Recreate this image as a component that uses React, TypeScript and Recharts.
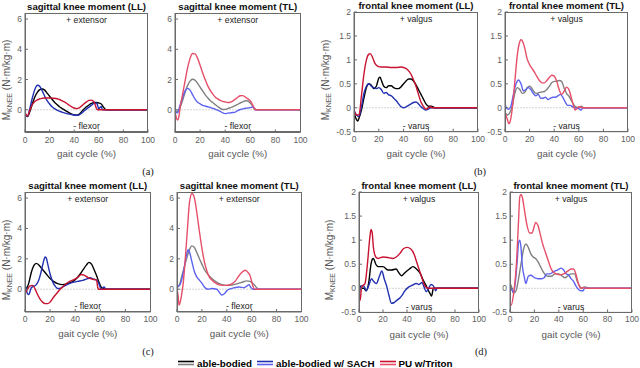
import { LineChart, Line, XAxis, YAxis, ReferenceLine } from 'recharts'

type Pt = [number, number]

const X_TICKS = [0, 20, 40, 60, 80, 100]
const SAG_TICKS = [0, 2, 4, 6]
const FRONT_TICKS = [-0.5, 0, 0.5, 1, 1.5, 2]
const SAG_DOMAIN: [number, number] = [-1.5, 6.4]
const FRONT_DOMAIN: [number, number] = [-0.5, 2]

// ---- (a) sagittal, top row ----
const aLLAble: Pt[] = [[0,-0.2],[2,-0.45],[4,-0.1],[6,0.4],[8,0.85],[10,1.15],[12,1.33],[14,1.38],[16,1.3],[18,1.1],[20,0.9],[22,0.7],[24,0.5],[26,0.35],[28,0.2],[30,0.1],[34,-0.1],[38,-0.28],[42,-0.36],[44,-0.3],[46,-0.12],[48,0.05],[50,0.2],[52,0.32],[54,0.42],[56,0.48],[58,0.48],[60,0.45],[62,0.38],[64,0.15],[66,0],[100,0]]
const aLLSach: Pt[] = [[0,-0.3],[2,-0.45],[4,0.1],[6,0.8],[8,1.35],[10,1.62],[12,1.55],[14,1.25],[16,0.9],[18,0.6],[20,0.38],[22,0.2],[24,0.08],[26,-0.02],[30,-0.15],[34,-0.25],[38,-0.32],[42,-0.36],[44,-0.33],[46,-0.22],[48,-0.08],[50,0.05],[52,0.18],[54,0.3],[56,0.42],[58,0.45],[59,0.3],[60,0.05],[61,0.15],[62,0.22],[63,0],[100,0]]
const aLLPu: Pt[] = [[0,-0.2],[2,-0.42],[4,0],[6,0.35],[8,0.55],[10,0.66],[12,0.72],[14,0.76],[16,0.78],[18,0.78],[20,0.78],[22,0.77],[24,0.76],[26,0.73],[28,0.68],[30,0.6],[32,0.52],[34,0.42],[36,0.3],[38,0.2],[40,0.12],[42,0.08],[44,0.12],[46,0.25],[48,0.4],[50,0.52],[52,0.62],[54,0.64],[56,0.52],[57,0.35],[58,0.1],[59,0],[100,0]]

const aTLAble: Pt[] = [[0,-0.05],[2,-0.1],[4,0.15],[6,0.6],[8,1.15],[10,1.6],[12,1.9],[14,2.02],[16,1.95],[18,1.75],[20,1.5],[22,1.25],[24,1.0],[26,0.8],[28,0.62],[30,0.48],[32,0.35],[34,0.22],[36,0.1],[38,0.02],[40,0.03],[42,0.08],[44,0.14],[46,0.2],[48,0.28],[50,0.36],[52,0.45],[54,0.52],[56,0.6],[58,0.58],[60,0.45],[62,0.25],[64,0.05],[65,0],[100,0]]
const aTLSach: Pt[] = [[0,-0.1],[2,-0.2],[4,0.3],[6,0.8],[8,1.25],[10,1.42],[12,1.3],[14,1.0],[16,0.7],[18,0.5],[20,0.4],[22,0.3],[24,0.25],[26,0.2],[28,0.15],[30,0.1],[32,0.05],[34,-0.02],[36,-0.1],[38,-0.2],[40,-0.25],[42,-0.22],[44,-0.2],[46,-0.18],[48,-0.15],[50,-0.05],[52,0.02],[54,0.06],[56,0.1],[58,0.12],[60,0.14],[62,0.2],[63,0.1],[64,0],[100,0]]
const aTLPu: Pt[] = [[0,-0.1],[1,-0.5],[2,-0.68],[3,-0.5],[4,0.1],[6,1.0],[8,1.9],[10,2.75],[12,3.4],[14,3.72],[16,3.7],[18,3.4],[20,2.95],[22,2.45],[24,2.0],[26,1.6],[28,1.3],[30,1.05],[32,0.85],[34,0.72],[36,0.62],[38,0.56],[40,0.52],[42,0.48],[44,0.5],[46,0.58],[48,0.7],[50,0.83],[52,0.93],[54,0.94],[56,0.84],[58,0.72],[60,0.6],[62,0.3],[63,0.1],[64,0],[100,0]]

// ---- (b) frontal, top row ----
const bLLAble: Pt[] = [[0,-0.1],[2,-0.25],[3,-0.28],[4,-0.22],[6,-0.05],[8,0.2],[10,0.42],[12,0.5],[14,0.47],[16,0.4],[18,0.45],[20,0.62],[21,0.64],[22,0.58],[24,0.45],[26,0.42],[28,0.46],[30,0.46],[32,0.42],[34,0.4],[36,0.4],[38,0.44],[40,0.5],[42,0.56],[44,0.6],[46,0.6],[48,0.56],[50,0.48],[52,0.38],[54,0.28],[56,0.18],[58,0.08],[60,0.03],[62,0.03],[64,0.02],[65,0],[100,0]]
const bLLSach: Pt[] = [[0,-0.05],[2,-0.15],[4,-0.18],[6,0.02],[8,0.3],[10,0.45],[12,0.5],[14,0.45],[16,0.42],[18,0.4],[20,0.42],[22,0.38],[24,0.3],[26,0.32],[28,0.27],[30,0.25],[32,0.2],[34,0.15],[36,0.08],[38,0.02],[40,0],[42,0.02],[44,0.05],[46,0.08],[48,0.11],[50,0.12],[52,0.08],[54,0.02],[56,-0.02],[58,-0.05],[60,-0.03],[62,0],[100,0]]
const bLLPu: Pt[] = [[0,-0.05],[2,-0.15],[4,-0.15],[6,0.25],[8,0.7],[10,1.0],[12,1.12],[13,1.13],[15,1.05],[17,0.92],[19,0.87],[22,0.85],[26,0.85],[30,0.84],[34,0.84],[38,0.85],[40,0.84],[43,0.8],[46,0.7],[48,0.58],[50,0.45],[52,0.28],[54,0.12],[56,0.03],[58,-0.03],[60,0],[62,0.02],[63,0],[100,0]]

const bTLAble: Pt[] = [[0,-0.1],[2,-0.15],[4,-0.1],[6,0.05],[8,0.3],[10,0.42],[12,0.38],[14,0.3],[16,0.32],[18,0.42],[20,0.45],[22,0.4],[24,0.32],[26,0.3],[28,0.32],[30,0.33],[32,0.34],[34,0.38],[36,0.45],[38,0.52],[40,0.55],[42,0.55],[44,0.57],[46,0.55],[48,0.42],[50,0.3],[52,0.24],[54,0.15],[56,0.06],[58,0.01],[60,0],[62,0.03],[64,0],[100,0]]
const bTLSach: Pt[] = [[0,0.1],[1,0],[3,-0.03],[5,0.05],[7,0.3],[9,0.5],[11,0.58],[13,0.5],[15,0.35],[17,0.38],[19,0.42],[21,0.38],[23,0.3],[25,0.25],[27,0.28],[29,0.2],[31,0.2],[33,0.22],[35,0.17],[37,0.2],[39,0.22],[41,0.22],[43,0.25],[45,0.28],[47,0.22],[49,0.12],[51,0.05],[53,0.05],[55,0.02],[57,0],[60,-0.02],[62,-0.05],[63,0],[100,0]]
const bTLPu: Pt[] = [[0,-0.1],[2,-0.25],[3,-0.33],[4,-0.3],[6,0],[8,0.55],[10,1.1],[12,1.38],[13,1.42],[14,1.4],[16,1.25],[18,1.02],[20,0.9],[22,0.82],[24,0.74],[26,0.65],[28,0.57],[30,0.52],[32,0.52],[34,0.57],[36,0.63],[38,0.68],[40,0.66],[42,0.56],[44,0.38],[46,0.28],[48,0.34],[50,0.43],[52,0.38],[54,0.2],[56,0.02],[57,-0.05],[58,-0.03],[60,0.02],[62,0.01],[63,0],[100,0]]

// ---- (c) sagittal, bottom row ----
const cLLAble: Pt[] = [[0,-0.2],[1,0],[3,0.4],[5,1.1],[7,1.55],[9,1.7],[11,1.6],[13,1.4],[15,1.2],[17,1.0],[20,0.7],[23,0.5],[26,0.37],[30,0.3],[34,0.38],[38,0.5],[41,0.7],[44,1.0],[46,1.25],[49,1.6],[51,1.77],[53,1.65],[55,1.3],[57,0.9],[59,0.45],[61,0.1],[63,0.02],[65,0],[100,0]]
const cLLSach: Pt[] = [[0,0.27],[1,0],[2,-0.3],[3,-0.35],[5,0.1],[7,0.2],[9,0.3],[11,0.6],[13,1.2],[15,1.9],[16,2.12],[17,2.05],[18,1.7],[20,1.0],[22,0.5],[24,0.2],[26,0.05],[28,0.05],[30,0.15],[34,0.32],[38,0.45],[42,0.52],[46,0.58],[50,0.7],[52,0.75],[54,0.68],[57,0.6],[59,0.35],[60,0.1],[61,0],[62,0.1],[63,0.15],[64,0.05],[65,0],[100,0]]
const cLLPu: Pt[] = [[0,-0.3],[2,0],[4,0.22],[6,0.25],[8,0.02],[10,-0.35],[12,-0.65],[14,-0.85],[16,-0.95],[18,-0.95],[20,-0.85],[22,-0.62],[24,-0.4],[26,-0.2],[28,0],[30,0.15],[33,0.38],[36,0.53],[39,0.63],[42,0.78],[45,0.97],[47,0.93],[50,0.78],[52,0.7],[55,0.64],[57,0.6],[58,0.1],[58.5,0],[100,0]]

const cTLAble: Pt[] = [[0,0.1],[2,0.3],[4,0.9],[6,1.5],[8,2.1],[10,2.6],[12,2.85],[14,2.75],[16,2.4],[18,2.0],[20,1.65],[22,1.3],[25,0.95],[28,0.7],[32,0.45],[36,0.3],[40,0.25],[44,0.28],[48,0.35],[52,0.45],[56,0.55],[59,0.5],[62,0.3],[64,0.1],[66,0],[100,0]]
const cTLSach: Pt[] = [[0,0.2],[2,0.25],[4,0.7],[6,1.5],[8,2.4],[9,2.6],[10,2.45],[12,1.8],[14,1.15],[16,0.8],[18,0.6],[20,0.4],[22,0.15],[25,0],[28,0.05],[32,0],[34,-0.2],[36,-0.38],[38,-0.3],[40,-0.1],[42,0],[46,0.1],[50,0.15],[54,0.1],[56,0.2],[58,0.3],[59,0.15],[61,0],[100,0]]
const cTLPu: Pt[] = [[0,0],[1,-0.5],[1.6,-1.05],[3,-0.7],[4,-0.2],[5,0.4],[7,2.4],[8.5,4.1],[10,5.7],[12,6.3],[14,6.0],[16,5.0],[18,3.8],[20,2.7],[22,1.8],[24,1.2],[26,0.8],[28,0.6],[31,0.4],[35,0.27],[40,0.25],[44,0.35],[47,0.55],[49,0.8],[52,1.1],[55,1.25],[57,1.1],[58.5,0.93],[60,0.5],[61,0.2],[62.5,0],[100,0]]

// ---- (d) frontal, bottom row ----
const dLLAble: Pt[] = [[0,-0.1],[1,0.05],[2,0],[4,0],[6,-0.05],[8,0.1],[10,0.5],[11,0.6],[12,0.62],[14,0.5],[16,0.45],[20,0.45],[24,0.38],[27,0.38],[31,0.4],[33,0.33],[35.5,0.26],[38,0.32],[42,0.4],[45,0.45],[48,0.4],[51,0.31],[53.5,0.17],[56,0.05],[59,-0.1],[60.5,-0.16],[62,0],[65,0],[100,0]]
const dLLSach: Pt[] = [[0,-0.2],[1,0],[2,0.05],[4,0.05],[6,-0.05],[8,0.05],[10.5,0.2],[12,0.15],[14.5,0.1],[17,0.25],[19,0.36],[21,0.2],[23,0.05],[25,-0.15],[27,-0.31],[29,-0.3],[31,-0.26],[34,-0.2],[36,-0.14],[38,-0.06],[41,0.02],[44,0.06],[48,0.1],[50,0.08],[52.5,0.12],[54,0.04],[56,-0.07],[58,0],[60,0.08],[62,0.05],[64,-0.05],[65,0],[100,0]]
const dLLPu: Pt[] = [[0,-0.2],[1,-0.25],[2,0],[3,0.05],[5,0.1],[7,0.5],[9,1.05],[10,1.22],[11,1.15],[12,0.85],[14,0.65],[16,0.62],[20,0.65],[24,0.64],[28,0.62],[31,0.65],[34,0.72],[37,0.82],[40,0.85],[43,0.82],[46,0.7],[48,0.55],[50,0.4],[52,0.25],[54,0.1],[56,0.02],[58,0],[100,0]]

const dTLAble: Pt[] = [[0,0.1],[1,0.05],[2,-0.05],[3,-0.1],[5,-0.05],[7,0.2],[9,0.5],[11,0.8],[13,0.92],[15,0.85],[17,0.72],[19,0.65],[21,0.62],[23,0.55],[25,0.45],[27,0.35],[29,0.28],[31,0.25],[34,0.25],[37,0.3],[40,0.3],[43,0.25],[45,0.22],[47,0.25],[50,0.3],[53,0.3],[55,0.15],[57,0.05],[59,0],[61,0.03],[63,0.02],[65,0],[100,0]]
const dTLSach: Pt[] = [[0,0],[2,-0.05],[3,-0.1],[4,0.05],[6,0.6],[7,0.95],[8,1.0],[9,0.85],[10,0.5],[12,0.2],[13,0.1],[15,0.25],[17,0.27],[20,0.22],[23,0.2],[26,0.2],[28,0.22],[30,0.3],[33,0.3],[36,0.35],[39,0.38],[42,0.42],[44,0.38],[46,0.3],[48,0.28],[50,0.2],[52,0.15],[54,0.05],[56,-0.02],[58,-0.05],[60,-0.05],[61,0],[100,0]]
const dTLPu: Pt[] = [[0,-0.3],[1,-0.35],[3,-0.1],[5,0.4],[7,1.4],[8,1.9],[9,1.95],[10,1.9],[12,1.6],[14,1.3],[16,1.15],[18,1.15],[20,1.3],[21,1.37],[23,1.3],[25,1.1],[27,0.9],[29,0.75],[31,0.6],[33,0.45],[35,0.35],[38,0.3],[41,0.28],[44,0.3],[47,0.35],[50,0.4],[52,0.4],[54,0.3],[56,0.1],[58,0],[60,0.02],[62,0],[100,0]]

const LL_COLORS = ['#000000', '#2130b0', '#c8122f']
const TL_COLORS = ['#808080', '#5d63f0', '#e64f69']

const LEGEND = [
  { name: 'able-bodied', dark: '#000000', light: '#808080' },
  { name: 'able-bodied w/ SACH', dark: '#2130b0', light: '#5d63f0' },
  { name: 'PU w/Triton', dark: '#c8122f', light: '#e64f69' },
]

const FONT = '"Liberation Sans", Arial, sans-serif'
const PADL = 40
const PADT = 4
const PADR = 14
const PADB = 32

type PanelProps = {
  box: [number, number, number, number]
  sagittal: boolean
  series: Pt[][]
  colors: string[]
  title: string
  yLabelDx?: number
}

function Panel({ box, sagittal, series, colors, title, yLabelDx }: PanelProps) {
  const [l, t, r, b] = box
  const w = r - l
  const h = b - t
  const top = sagittal ? '+ extensor' : '+ valgus'
  const bottom = sagittal ? '- flexor' : '- varus'
  const tickStyle = { fontSize: 8.5, fill: '#606060', fontFamily: FONT }
  // keep the title inside the page for the top row
  const titleTop = PADT - Math.min(12, t)
  return (
    <div style={{ position: 'absolute', left: l - PADL, top: t - PADT, width: w + PADL + PADR, height: h + PADT + PADB }}>
      <LineChart width={w + PADL + PADR} height={h + PADT + PADB} margin={{ top: PADT, right: PADR, bottom: 0, left: 0 }}>
        <XAxis type="number" dataKey="x" domain={[0, 100]} ticks={X_TICKS} interval={0} height={PADB}
          tickSize={-3} tickMargin={7} stroke="#6a6a6a" tick={tickStyle} allowDataOverflow />
        <YAxis type="number" domain={sagittal ? SAG_DOMAIN : FRONT_DOMAIN} ticks={sagittal ? SAG_TICKS : FRONT_TICKS} interval={0} width={PADL}
          tickSize={-3} tickMargin={6} stroke="#6a6a6a" tick={tickStyle} allowDataOverflow />
        <ReferenceLine y={0} stroke="#d4d4d4" strokeDasharray="2 1" />
        {series.map((pts, i) => (
          <Line key={i} data={pts.map(([x, y]) => ({ x, y }))} dataKey="y" type="monotone" stroke={colors[i]}
            strokeWidth={1.4} dot={false} isAnimationActive={false} />
        ))}
      </LineChart>
      <div style={{ position: 'absolute', left: PADL, top: PADT, width: w, height: h, border: '0.8px solid #6a6a6a', boxSizing: 'border-box', pointerEvents: 'none' }} />
      <div style={{ position: 'absolute', left: PADL - 20, top: titleTop, width: w + 40, textAlign: 'center', fontSize: 9.6, fontWeight: 'bold', lineHeight: '11px', color: '#111' }}>{title}</div>
      <div style={{ position: 'absolute', left: PADL, top: PADT + 1, width: w, textAlign: 'center', fontSize: 8.7, lineHeight: '12px', color: '#222' }}>{top}</div>
      <div style={{ position: 'absolute', left: PADL, top: PADT + h - 12, width: w, textAlign: 'center', fontSize: 8.7, lineHeight: '12px', color: '#222' }}>{bottom}</div>
      <div style={{ position: 'absolute', left: PADL, top: PADT + h + 15, width: w, textAlign: 'center', fontSize: 9.8, lineHeight: '13px', color: '#555' }}>gait cycle (%)</div>
      {yLabelDx !== undefined && (
        <div style={{ position: 'absolute', left: PADL - yLabelDx, top: PADT + h / 2 + 8, transform: 'translate(-50%, -50%) rotate(-90deg)', whiteSpace: 'nowrap', fontSize: 10, color: '#555' }}>
          M<sub style={{ fontSize: 7, verticalAlign: '-2px' }}>KNEE</sub> (N·m/kg·m)
        </div>
      )}
    </div>
  )
}

function Caption({ x, y, text }: { x: number; y: number; text: string }) {
  return (
    <div style={{ position: 'absolute', left: x - 15, top: y - 7, width: 30, textAlign: 'center', fontFamily: '"Liberation Serif", "Times New Roman", serif', fontSize: 10.5, lineHeight: '14px', color: '#222' }}>{text}</div>
  )
}

export default function App() {
  return (
    <div style={{ position: 'fixed', left: 0, top: 0, width: 640, height: 368, background: '#fff', fontFamily: FONT, overflow: 'hidden' }}>
      <Panel box={[25, 12.5, 148, 132]} sagittal series={[aLLAble, aLLSach, aLLPu]} colors={LL_COLORS} title="sagittal knee moment (LL)" yLabelDx={18} />
      <Panel box={[175, 12.5, 300.5, 132]} sagittal series={[aTLAble, aTLSach, aTLPu]} colors={TL_COLORS} title="sagittal knee moment (TL)" />
      <Panel box={[354, 12.3, 478, 132]} sagittal={false} series={[bLLAble, bLLSach, bLLPu]} colors={LL_COLORS} title="frontal knee moment (LL)" yLabelDx={28} />
      <Panel box={[505, 12.3, 628, 132]} sagittal={false} series={[bTLAble, bTLSach, bTLPu]} colors={TL_COLORS} title="frontal knee moment (TL)" />
      <Panel box={[25, 192, 150.5, 312]} sagittal series={[cLLAble, cLLSach, cLLPu]} colors={LL_COLORS} title="sagittal knee moment (LL)" yLabelDx={18} />
      <Panel box={[177, 192, 301.5, 312]} sagittal series={[cTLAble, cTLSach, cTLPu]} colors={TL_COLORS} title="sagittal knee moment (TL)" />
      <Panel box={[359, 192.3, 479, 312.7]} sagittal={false} series={[dLLAble, dLLSach, dLLPu]} colors={LL_COLORS} title="frontal knee moment (LL)" yLabelDx={29} />
      <Panel box={[510, 192.3, 632, 312.7]} sagittal={false} series={[dTLAble, dTLSach, dTLPu]} colors={TL_COLORS} title="frontal knee moment (TL)" />
      <Caption x={148} y={172} text="(a)" />
      <Caption x={480} y={172} text="(b)" />
      <Caption x={148} y={352} text="(c)" />
      <Caption x={481} y={352} text="(d)" />
      <div style={{ position: 'absolute', left: 178, top: 357, display: 'flex', alignItems: 'center', height: 12 }}>
        {LEGEND.map((item) => (
          <div key={item.name} style={{ display: 'flex', alignItems: 'center', marginRight: 5 }}>
            <svg width={16} height={8} style={{ display: 'block' }}>
              <line x1={0} x2={16} y1={2.5} y2={2.5} stroke={item.dark} strokeWidth={1.6} />
              <line x1={0} x2={16} y1={5.5} y2={5.5} stroke={item.light} strokeWidth={1.6} />
            </svg>
            <span style={{ marginLeft: 3, fontSize: 9.8, fontWeight: 'bold', color: '#000', whiteSpace: 'nowrap' }}>{item.name}</span>
          </div>
        ))}
      </div>
    </div>
  )
}
